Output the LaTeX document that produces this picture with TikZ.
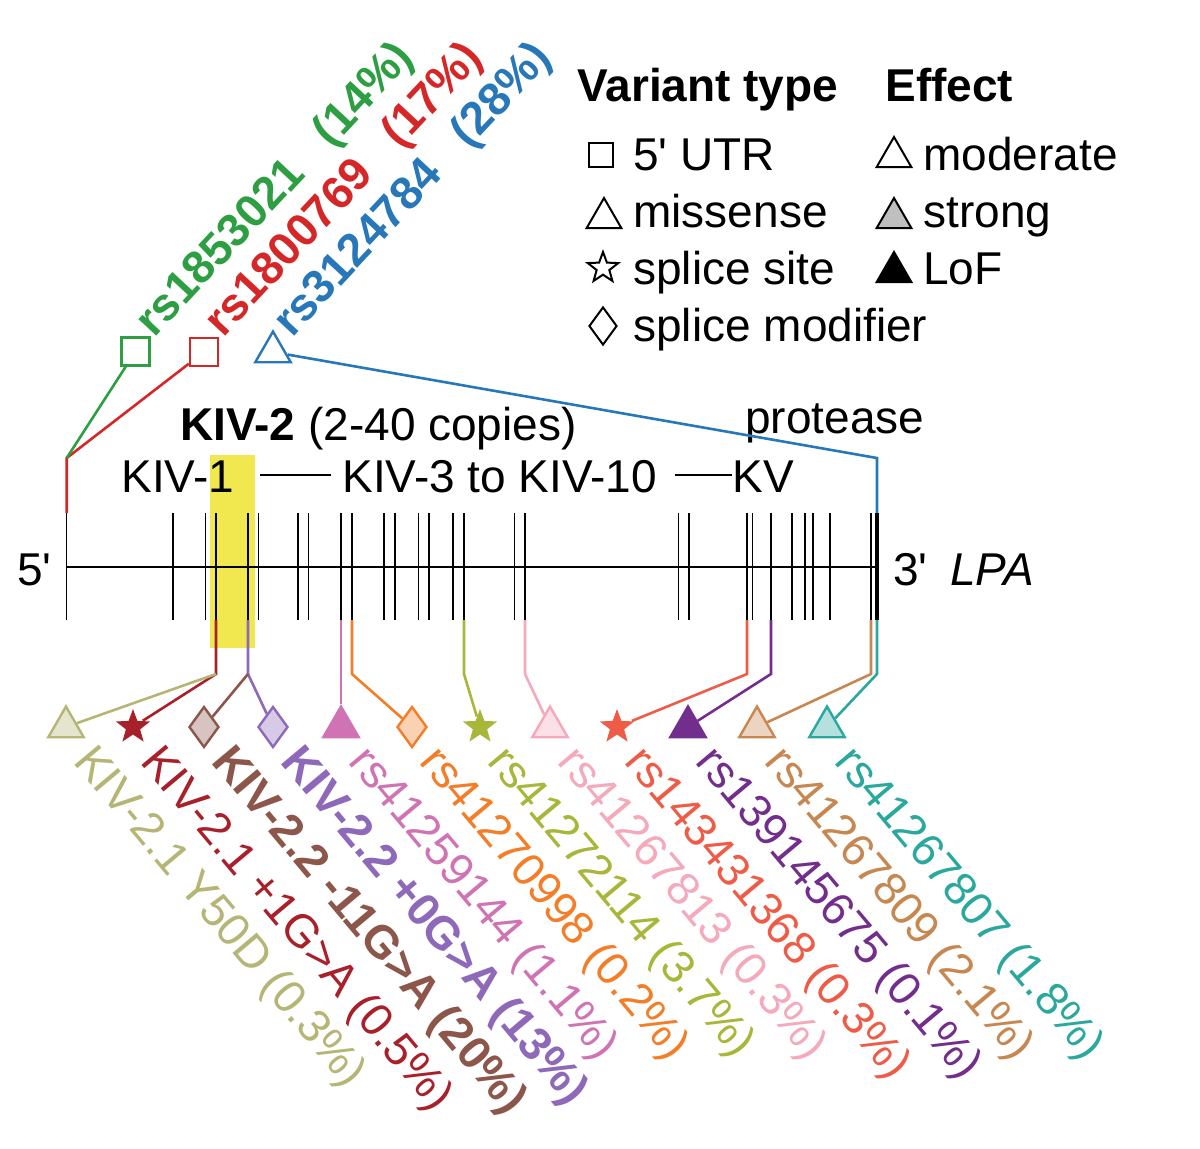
\documentclass[tikz,border=0pt]{standalone}
\usepackage{fontspec}
\setmainfont{Liberation Sans}[Ligatures=TeXOff]
\usetikzlibrary{shapes.geometric,calc}

\definecolor{hlyellow}{RGB}{241,232,80}
\definecolor{snpgreen}{RGB}{46,158,67}
\definecolor{snpred}{RGB}{214,39,40}
\definecolor{snpblue}{RGB}{40,120,185}
\definecolor{ckhaki}{RGB}{181,182,118}
\definecolor{cdarkred}{RGB}{168,32,42}
\definecolor{cbrown}{RGB}{140,86,75}
\definecolor{cpurple}{RGB}{142,105,185}
\definecolor{cmagenta}{RGB}{208,115,180}
\definecolor{corange}{RGB}{244,125,40}
\definecolor{colive}{RGB}{168,183,58}
\definecolor{cpink}{RGB}{244,170,186}
\definecolor{ccoral}{RGB}{238,92,72}
\definecolor{cplum}{RGB}{115,45,140}
\definecolor{ctan}{RGB}{198,135,80}
\definecolor{cteal}{RGB}{42,168,158}

\begin{document}
\begin{tikzpicture}[x=0.5pt,y=-0.5pt,
    txt/.style={font=\fontsize{23}{27}\selectfont, inner sep=0pt},
    bold/.style={font=\bfseries\fontsize{23}{27}\selectfont},
    varlbl/.style={txt, anchor=base west, rotate=-50},
    toplbl/.style={txt, bold, anchor=base west, rotate=47},
    utr/.style={rectangle, minimum size=14pt, inner sep=0pt, line width=1.2pt},
    missense/.style={regular polygon, regular polygon sides=3, minimum size=20.5pt, inner sep=0pt, line width=1.2pt},
    splice/.style={star, star points=5, star point ratio=2.4, minimum size=18pt, inner sep=0pt},
    modifier/.style={diamond, minimum width=15pt, minimum height=20.5pt, inner sep=0pt, line width=1.2pt},
    key/.style={line width=1pt, draw=black},
    conn/.style={line width=1.3pt},
    tick/.style={line width=0.75pt}]

\useasboundingbox (0,0) rectangle (1200,1148);

% KIV-2 highlight
\fill[hlyellow] (210,455) rectangle (255,648);

% gene axis with exons
\draw[line width=1.3pt] (66,567) -- (877,567);
\foreach \x in {66.7,173,205.5,216,248,258.5,298,308.5,341,352,384,395,418.5,429,453,464,514.5,525,678.5,689,747,752.5,771,792,805,813,830,871}
    \draw[tick] (\x,513) -- (\x,620);
\draw[line width=1.8pt] (877,513) -- (877,620);

\node[txt, anchor=base east] (five) at (52,585) {5'};
\node[txt, anchor=base west] (three) at (893,585) {3'};
\node[txt, anchor=base west, font=\itshape\fontsize{23}{27}\selectfont] (lpa) at (950,585) {LPA};

% domains
\node[txt, anchor=base west] (kiv2) at (180,440) {\textbf{KIV-2} (2-40 copies)};
\node[txt, anchor=base west] (prot) at (745,433) {protease};
\node[txt, anchor=base west] (kiv1) at (121,492) {KIV-1};
\node[txt, anchor=base west] (kiv3) at (342,492) {KIV-3 to KIV-10};
\node[txt, anchor=base west] (kv) at (732,492) {KV};
\draw[line width=1pt] (260,475) -- (331,475);
\draw[line width=1pt] (675,475) -- (kv.west |- 0,475);

% 5' UTR and missense variants above
\node[utr, draw=snpgreen] (g1) at (135.5,351.5) {};
\node[utr, draw=snpred] (g2) at (204,352) {};
\node[missense, draw=snpblue] (g3) at (273,352) {};
\coordinate (ltop) at (66.7,513);
\coordinate (lend) at (66.7,458);
\coordinate (rtop) at (877,513);
\coordinate (rend) at (877,458);
\draw[conn, snpred] (ltop) -- (lend) -- (g2);
\draw[conn, snpgreen] (lend) -- (g1);
\draw[conn, snpblue] (rtop) -- (rend) -- (g3);

\node[toplbl, snpgreen] (l1) at ($(g1)+(19,-13)$) {rs1853021\hspace{0.8em}(14\%)};
\node[toplbl, snpred] (l2) at ($(g2)+(19,-13)$) {rs1800769\hspace{0.8em}(17\%)};
\node[toplbl, snpblue] (l3) at ($(g3)+(19,-13)$) {rs3124784\hspace{0.8em}(28\%)};

% variants below
\node[missense, draw=ckhaki, fill=ckhaki!35] (m1) at (66,727) {};
\node[splice, fill=cdarkred] (m2) at (133,727) {};
\node[modifier, draw=cbrown, fill=cbrown!35] (m3) at (204,727) {};
\node[modifier, draw=cpurple, fill=cpurple!35] (m4) at (273,727) {};
\node[missense, draw=cmagenta, fill=cmagenta] (m5) at (341,727) {};
\node[modifier, draw=corange, fill=corange!35] (m6) at (412,727) {};
\node[splice, fill=colive] (m7) at (480,727) {};
\node[missense, draw=cpink, fill=cpink!35] (m8) at (550,727) {};
\node[splice, fill=ccoral] (m9) at (617,727) {};
\node[missense, draw=cplum, fill=cplum] (m10) at (688,727) {};
\node[missense, draw=ctan, fill=ctan!35] (m11) at (757,727) {};
\node[missense, draw=cteal, fill=cteal!35] (m12) at (827,727) {};

\foreach \x/\n in {216/a,248/b,341/c,352/d,464/e,525/f,747/g,771/h,871/i,877/j} {
    \coordinate (t\n) at (\x,620);
    \coordinate (b\n) at (\x,674);
}
\draw[conn, cdarkred] (ta) -- (ba) -- (m2);
\draw[conn, ckhaki] (ba) -- (m1);
\draw[conn, cpurple] (tb) -- (bb) -- (m4);
\draw[conn, cbrown] (bb) -- (m3);
\draw[conn, cmagenta] (tc) -- (m5);
\draw[conn, corange] (td) -- (bd) -- (m6);
\draw[conn, colive] (te) -- (be) -- (m7);
\draw[conn, cpink] (tf) -- (bf) -- (m8);
\draw[conn, ccoral] (tg) -- (bg) -- (m9);
\draw[conn, cplum] (th) -- (bh) -- (m10);
\draw[conn, ctan] (ti) -- (bi) -- (m11);
\draw[conn, cteal] (tj) -- (bj) -- (m12);

\node[varlbl, ckhaki] (v1) at ($(m1)+(6,35)$) {KIV-2.1 Y50D (0.3\%)};
\node[varlbl, cdarkred] (v2) at ($(m2)+(6,35)$) {KIV-2.1 +1G>A (0.5\%)};
\node[varlbl, bold, cbrown] (v3) at ($(m3)+(6,35)$) {KIV-2.2 -11G>A (20\%)};
\node[varlbl, bold, cpurple] (v4) at ($(m4)+(6,35)$) {KIV-2.2 +0G>A (13\%)};
\node[varlbl, cmagenta] (v5) at ($(m5)+(6,35)$) {rs41259144 (1.1\%)};
\node[varlbl, corange] (v6) at ($(m6)+(6,35)$) {rs41270998 (0.2\%)};
\node[varlbl, colive] (v7) at ($(m7)+(6,35)$) {rs41272114 (3.7\%)};
\node[varlbl, cpink] (v8) at ($(m8)+(6,35)$) {rs41267813 (0.3\%)};
\node[varlbl, ccoral] (v9) at ($(m9)+(6,35)$) {rs143431368 (0.3\%)};
\node[varlbl, cplum] (v10) at ($(m10)+(6,35)$) {rs139145675 (0.1\%)};
\node[varlbl, ctan] (v11) at ($(m11)+(6,35)$) {rs41267809 (2.1\%)};
\node[varlbl, cteal] (v12) at ($(m12)+(6,35)$) {rs41267807 (1.8\%)};

% legend
\node[txt, bold, anchor=base west] (vtype) at (577,101) {Variant type};
\node[txt, bold, anchor=base west] (eff) at (885,101) {Effect};
\node[utr, key, minimum size=12pt] (k1) at (601,155) {};
\node[missense, key, minimum size=20pt] (k2) at (604,218) {};
\node[splice, key, minimum size=16pt] (k3) at (603,268) {};
\node[modifier, key, minimum width=14pt, minimum height=19pt] (k4) at (603,326) {};
\node[txt, anchor=base west] (k1t) at (633,170) {5' UTR};
\node[txt, anchor=base west] (k2t) at (633,227) {missense};
\node[txt, anchor=base west] (k3t) at (633,284) {splice site};
\node[txt, anchor=base west] (k4t) at (633,341) {splice modifier};
\node[missense, key, minimum size=20pt, fill=white] (e1) at (894,157) {};
\node[missense, key, minimum size=20pt, fill=black!25] (e2) at (894,218) {};
\node[missense, key, minimum size=20pt, fill=black] (e3) at (894,272) {};
\node[txt, anchor=base west] (e1t) at (923,170) {moderate};
\node[txt, anchor=base west] (e2t) at (923,227) {strong};
\node[txt, anchor=base west] (e3t) at (923,284) {LoF};
\end{tikzpicture}
\end{document}
